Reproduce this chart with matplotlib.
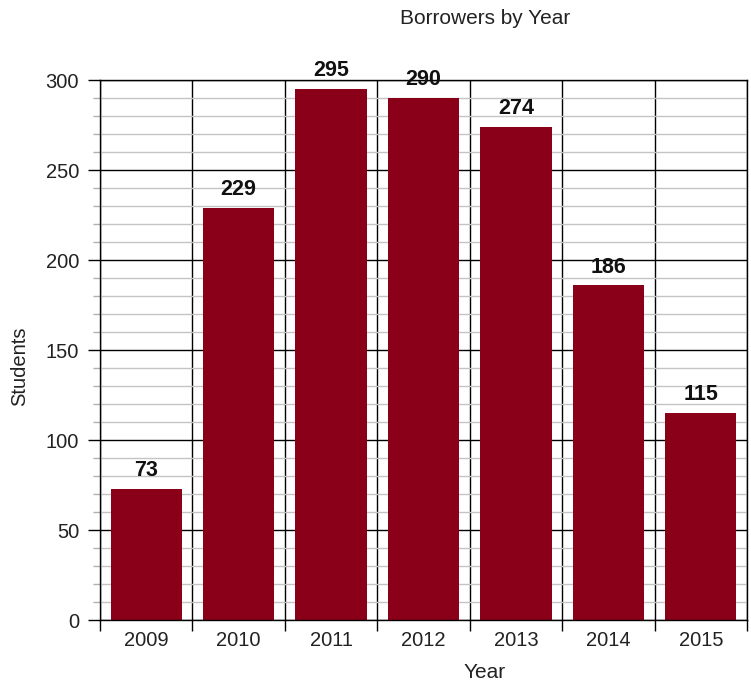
import matplotlib
matplotlib.use("Agg")
import matplotlib.pyplot as plt
import numpy as np

plt.rcParams['font.family'] = ['Liberation Sans', 'DejaVu Sans']

years = ["2009", "2010", "2011", "2012", "2013", "2014", "2015"]
students = [73, 229, 295, 290, 274, 186, 115]

fig = plt.figure(figsize=(7.51, 6.85), dpi=100)
ax = fig.add_axes([100/751, 1-620/685, 647/751, 540/685])

x = np.arange(len(years))
ax.bar(x, students, width=0.77, color="#8B0019", zorder=3)

ax.set_xlim(-0.5, len(years) - 0.5)
ax.set_ylim(0, 300)
ax.set_xticks(x)
ax.set_xticklabels(years, fontsize=14.5, color="#222222")
ax.set_xticks(np.arange(-0.5, len(years)), minor=True)
ax.set_yticks(np.arange(0, 301, 50))
ax.set_yticks(np.arange(0, 301, 10), minor=True)
ax.tick_params(axis='y', which='major', labelsize=14.5, length=9, width=1, color='black', labelcolor="#222222", pad=6)
ax.tick_params(axis='y', which='minor', length=5, width=1, color='#b0b0b0')
ax.tick_params(axis='x', which='major', length=0, pad=8)
ax.tick_params(axis='x', which='minor', length=8, width=1, color='black')

ax.grid(which='minor', axis='y', color='#c4c4c4', linewidth=1, zorder=0)
ax.grid(which='major', axis='y', color='black', linewidth=1, zorder=1)
ax.grid(which='minor', axis='x', color='black', linewidth=1, zorder=1)
ax.grid(which='major', axis='x', visible=False)
ax.set_axisbelow(True)

for s in ax.spines.values():
    s.set_color('black')
    s.set_linewidth(1)
    s.set_zorder(4)

for xi, v in zip(x, students):
    ax.annotate(str(v), (xi, v), xytext=(0, 5.5), textcoords='offset points',
                ha='center', va='bottom', fontsize=15.5, fontweight='bold', color='#111111', zorder=5)

fig.text(485/751, 1-18/685, "Borrowers by Year", ha='center', va='center', fontsize=15, color='#222222')
fig.text(20/751, 1-366/685, "Students", ha='center', va='center', rotation=90, fontsize=14.5, color='#222222')
fig.text(485/751, 1-673/685, "Year", ha='center', va='center', fontsize=15, color='#222222')

fig.savefig("out.png", dpi=100)
